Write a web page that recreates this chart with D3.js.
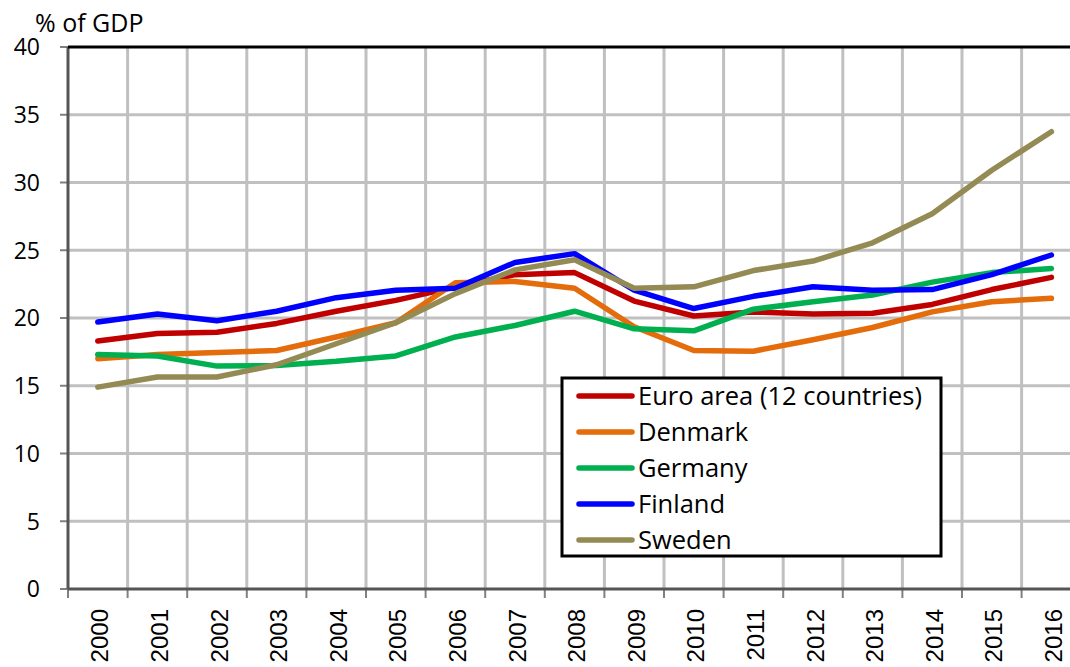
<html>
<script src='https://d3js.org/d3.v7.min.js'></script>
<body style="margin:0">
<style>
    body { font-family: "Open Sans", sans-serif; background: white; }
    .xlab text { font-family: "Liberation Sans", Arial, sans-serif; }
</style>
<svg width=1070 height=667></svg>
<script>

var years = ["2000","2001","2002","2003","2004","2005","2006","2007","2008",
             "2009","2010","2011","2012","2013","2014","2015","2016"];
var yTicks = [0, 5, 10, 15, 20, 25, 30, 35, 40];

var euroArea = [18.3, 18.85, 18.95, 19.6, 20.5, 21.3, 22.3, 23.2, 23.35, 21.25, 20.15, 20.45, 20.3, 20.35, 21.0, 22.1, 23.0];
var denmark  = [17.0, 17.3, 17.45, 17.6, 18.6, 19.65, 22.6, 22.7, 22.2, 19.35, 17.6, 17.55, 18.4, 19.3, 20.45, 21.2, 21.45];
var germany  = [17.3, 17.2, 16.45, 16.5, 16.8, 17.2, 18.6, 19.45, 20.5, 19.2, 19.05, 20.65, 21.2, 21.7, 22.65, 23.35, 23.65];
var finland  = [19.7, 20.3, 19.8, 20.5, 21.5, 22.05, 22.2, 24.1, 24.75, 22.05, 20.7, 21.6, 22.3, 22.05, 22.1, 23.2, 24.65];
var sweden   = [14.9, 15.65, 15.65, 16.55, 18.1, 19.65, 21.8, 23.55, 24.3, 22.2, 22.3, 23.5, 24.2, 25.55, 27.7, 30.9, 33.75];

var seriesNames = ["Euro area (12 countries)", "Denmark", "Germany", "Finland", "Sweden"];
var seriesValues = [euroArea, denmark, germany, finland, sweden];
var colors = ["#C00000", "#E46C0A", "#00B050", "#0000FF", "#948A54"];

// note: "top" is reserved on window, so use plot* names
var plotLeft = 68, plotTop = 47, plotBottom = 589, bandW = 59.6;

var svg = d3.select("svg");

var x = d3.scaleBand()
    .domain(years)
    .range([plotLeft, plotLeft + years.length * bandW])
    .padding(0);

var y = d3.scaleLinear()
    .domain([0, 40])
    .range([plotBottom, plotTop]);

// grid
svg.append("g").selectAll("line")
    .data(yTicks.filter(function(d) { return d > 0 && d < 40; }))
    .enter().append("line")
    .attr("x1", plotLeft).attr("x2", 1070)
    .attr("y1", function(d) { return y(d); })
    .attr("y2", function(d) { return y(d); })
    .attr("stroke", "#C0C0C0").attr("stroke-width", 3);

svg.append("g").selectAll("line")
    .data(years.slice(1))
    .enter().append("line")
    .attr("x1", function(d) { return x(d); })
    .attr("x2", function(d) { return x(d); })
    .attr("y1", plotTop).attr("y2", plotBottom)
    .attr("stroke", "#C0C0C0").attr("stroke-width", 3);

// y ticks + labels
svg.append("g").selectAll("line")
    .data(yTicks).enter().append("line")
    .attr("x1", 60).attr("x2", plotLeft)
    .attr("y1", function(d) { return y(d); })
    .attr("y2", function(d) { return y(d); })
    .attr("stroke", "#808080").attr("stroke-width", 2);

svg.append("g").selectAll("text")
    .data(yTicks).enter().append("text")
    .attr("x", 40)
    .attr("y", function(d) { return y(d); })
    .attr("dy", "0.36em")
    .attr("text-anchor", "end")
    .style("font-size", "23px")
    .text(function(d) { return d; });

// x ticks at band edges
svg.append("g").selectAll("line")
    .data(years).enter().append("line")
    .attr("x1", function(d) { return x(d); })
    .attr("x2", function(d) { return x(d); })
    .attr("y1", plotBottom).attr("y2", 598)
    .attr("stroke", "#808080").attr("stroke-width", 2);

svg.append("g")
    .attr("class", "xlab")
    .attr("transform", "translate(0," + plotBottom + ")")
    .call(d3.axisBottom(x).tickSize(0))
    .call(function(g) { g.select(".domain").remove(); })
    .selectAll("text")
    .style("font-size", "24px")
    .attr("fill", "black")
    .attr("text-anchor", "end")
    .attr("x", -20)
    .attr("y", 2)
    .attr("dy", "0.36em")
    .attr("transform", "rotate(-90)");

// axes lines
svg.append("line")
    .attr("x1", plotLeft).attr("x2", 1070).attr("y1", plotBottom).attr("y2", plotBottom)
    .attr("stroke", "#555").attr("stroke-width", 3);
svg.append("line")
    .attr("x1", plotLeft).attr("x2", plotLeft).attr("y1", plotTop).attr("y2", plotBottom)
    .attr("stroke", "#555").attr("stroke-width", 3);
svg.append("line")
    .attr("x1", plotLeft).attr("x2", 1070).attr("y1", plotTop).attr("y2", plotTop)
    .attr("stroke", "black").attr("stroke-width", 3);

// lines
var line = d3.line()
    .x(function(d, i) { return x(years[i]) + x.bandwidth() / 2; })
    .y(function(d) { return y(d); });

seriesValues.forEach(function(vals, k) {
    svg.append("path")
        .attr("d", line(vals))
        .attr("fill", "none")
        .attr("stroke", colors[k])
        .attr("stroke-width", 5.5)
        .attr("stroke-linejoin", "round")
        .attr("stroke-linecap", "round");
});

// title
svg.append("text")
    .attr("x", 35).attr("y", 32)
    .style("font-size", "25px")
    .text("% of GDP");

// legend
svg.append("rect")
    .attr("x", 562).attr("y", 378)
    .attr("width", 379).attr("height", 178)
    .attr("fill", "white").attr("stroke", "black").attr("stroke-width", 3);

seriesNames.forEach(function(name, k) {
    var ly = 396 + k * 36;
    svg.append("line")
        .attr("x1", 579).attr("x2", 632).attr("y1", ly).attr("y2", ly)
        .attr("stroke", colors[k]).attr("stroke-width", 5.5)
        .attr("stroke-linecap", "round");
    svg.append("text")
        .attr("x", 638).attr("y", ly)
        .attr("dy", "0.36em")
        .style("font-size", "25.5px")
        .text(name);
});

</script>
</body>
</html>
